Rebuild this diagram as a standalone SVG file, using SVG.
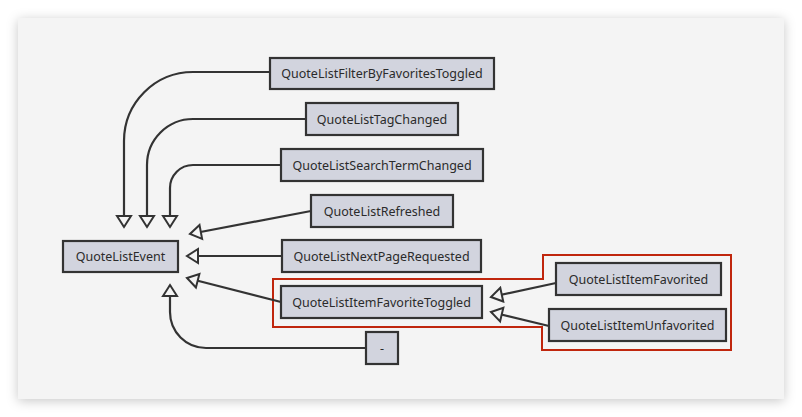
<svg xmlns="http://www.w3.org/2000/svg" width="802" height="417" viewBox="0 0 802 417">
<defs>
<filter id="sh" x="-10%" y="-10%" width="120%" height="125%">
<feDropShadow dx="0" dy="2" stdDeviation="6" flood-color="#000" flood-opacity="0.22"/>
</filter>
<marker id="tri" markerUnits="userSpaceOnUse" markerWidth="16" markerHeight="18" viewBox="-2 -2 16 18" refX="12" refY="7" orient="auto">
<path d="M1,0 L12,7 L1,14 Z" fill="#f4f4f4" stroke="#333" stroke-width="2" stroke-linejoin="miter"/>
</marker>
<style>
.n rect{fill:#d2d4de;stroke:#333;stroke-width:2.2}
.n text{font-family:"Noto Sans","Open Sans","Liberation Sans",sans-serif;font-size:12.5px;fill:#2b2b2b;text-anchor:middle;dominant-baseline:central}
.c path{fill:none;stroke:#333;stroke-width:2.2;marker-end:url(#tri)}
.grp{fill:none;stroke:#c0260d;stroke-width:2}
</style>
</defs>
<rect width="802" height="417" fill="#fff"/>
<rect x="18" y="18" width="766" height="381" fill="#f4f4f4" filter="url(#sh)"/>
<path class="grp" d="M273,279 H543 V255 H731 V350 H542 V327 H273 Z"/>
<g class="c">
<path d="M270,72 H193 A69,69 0 0 0 124,141 V227"/>
<path d="M306,119 H193 A46,46 0 0 0 147,165 V227"/>
<path d="M281,165 H193 A23,23 0 0 0 170,188 V227"/>
<path d="M311,211 L190,234"/>
<path d="M282,256 L187,256"/>
<path d="M281,302 L187,278"/>
<path d="M366,348 H206 A36,36 0 0 1 170,312 V285"/>
<path d="M556,283 L491,297"/>
<path d="M549,326 L491,312"/>
</g>
<g id="n-filter" class="n"><rect x="270" y="58" width="224" height="31"/><text x="382" y="73.5">QuoteListFilterByFavoritesToggled</text></g>
<g id="n-tag" class="n"><rect x="306" y="103" width="152" height="32"/><text x="382" y="119">QuoteListTagChanged</text></g>
<g id="n-search" class="n"><rect x="281" y="149" width="202" height="32"/><text x="382" y="165">QuoteListSearchTermChanged</text></g>
<g id="n-refreshed" class="n"><rect x="311" y="195" width="142" height="32"/><text x="382" y="211">QuoteListRefreshed</text></g>
<g id="n-event" class="n"><rect x="63" y="241" width="115" height="31"/><text x="120.5" y="256.5">QuoteListEvent</text></g>
<g id="n-nextpage" class="n"><rect x="282" y="240" width="199" height="32"/><text x="381.5" y="256">QuoteListNextPageRequested</text></g>
<g id="n-toggled" class="n"><rect x="281" y="286" width="201" height="32"/><text x="381.5" y="302">QuoteListItemFavoriteToggled</text></g>
<g id="n-dash" class="n"><rect x="366" y="332" width="32" height="32"/><text x="382" y="348">-</text></g>
<g id="n-favorited" class="n"><rect x="556" y="263" width="165" height="32"/><text x="638.5" y="279">QuoteListItemFavorited</text></g>
<g id="n-unfavorited" class="n"><rect x="549" y="309" width="177" height="32"/><text x="637.5" y="325">QuoteListItemUnfavorited</text></g>
</svg>
